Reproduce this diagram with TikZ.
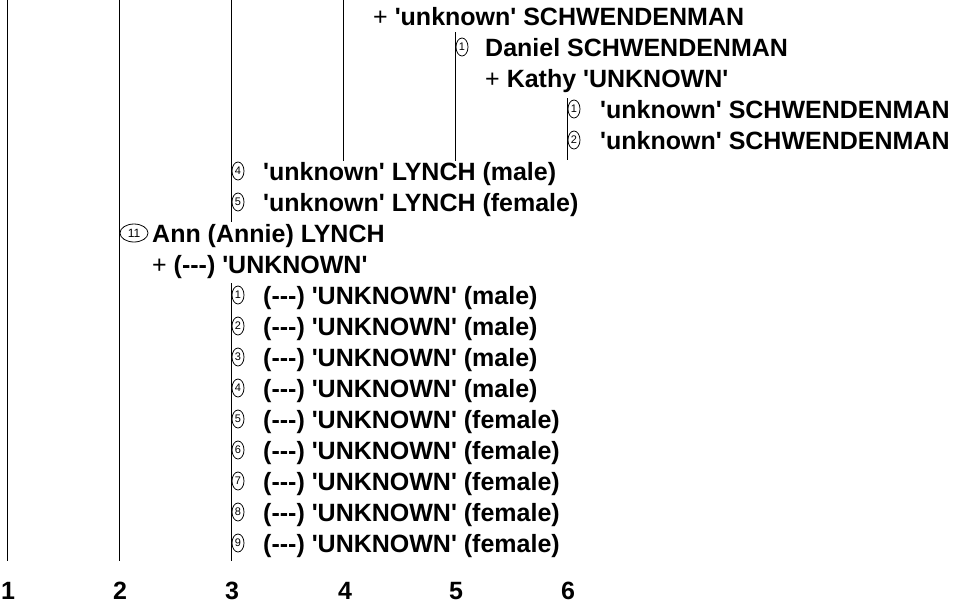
\documentclass[tikz,border=0pt]{standalone}
\usepackage{fontspec}
\newfontfamily\arialfont{Liberation Sans}
\usetikzlibrary{shapes.geometric}
\begin{document}
\begin{tikzpicture}[x=1pt,y=-1pt,
 person/.style={anchor=base west, inner sep=0pt, font=\arialfont\fontsize{25}{30}\selectfont\bfseries},
 badge/.style={draw, ellipse, line width=0.8pt, minimum width=12pt, minimum height=18pt, inner sep=0pt, font=\arialfont\fontsize{11}{11}\selectfont},
 widebadge/.style={badge, minimum width=28pt, minimum height=18pt, font=\arialfont\fontsize{12}{12}\selectfont},
 gen/.style={line width=0.9pt},
 genlabel/.style={anchor=base, inner sep=0pt, font=\arialfont\fontsize{25}{28}\selectfont\bfseries}]
\useasboundingbox (0,0) rectangle (955,606);
% generation lines
\coordinate (g1t) at (7,0);    \coordinate (g1b) at (7,561);
\coordinate (g2t) at (119,0);  \coordinate (g2b) at (119,561);
\coordinate (g3t) at (231,0);  \coordinate (g3b) at (231,222);
\coordinate (g3c) at (231,283);\coordinate (g3d) at (231,561);
\coordinate (g4t) at (343,0);  \coordinate (g4b) at (343,161);
\coordinate (g5t) at (455,32); \coordinate (g5b) at (455,161);
\coordinate (g6t) at (567,98); \coordinate (g6b) at (567,160);
\draw[gen] (g1t) -- (g1b);
\draw[gen] (g2t) -- (g2b);
\draw[gen] (g3t) -- (g3b);
\draw[gen] (g3c) -- (g3d);
\draw[gen] (g4t) -- (g4b);
\draw[gen] (g5t) -- (g5b);
\draw[gen] (g6t) -- (g6b);
% people
\node[person] (sp1) at (373,25) {{\mdseries+} 'unknown' SCHWENDENMAN};
\node[badge] (b2) at (462,47) {1};
\node[person] (p2) at (485,56) {Daniel SCHWENDENMAN};
\node[person] (sp3) at (485,87) {{\mdseries+} Kathy 'UNKNOWN'};
\node[badge] (b4) at (574,109) {1};
\node[person] (p4) at (600,118) {'unknown' SCHWENDENMAN};
\node[badge] (b5) at (574,140) {2};
\node[person] (p5) at (600,149) {'unknown' SCHWENDENMAN};
\node[badge] (b6) at (238,171) {4};
\node[person] (p6) at (263,180) {'unknown' LYNCH (male)};
\node[badge] (b7) at (238,202) {5};
\node[person] (p7) at (263,211) {'unknown' LYNCH (female)};
\node[widebadge] (b8) at (134,233) {11};
\node[person] (p8) at (152,242) {Ann (Annie) LYNCH};
\node[person] (sp9) at (152,273) {{\mdseries+} (---) 'UNKNOWN'};
\foreach \i/\s [count=\k from 0] in {1/male,2/male,3/male,4/male,5/female,6/female,7/female,8/female,9/female}{
  \node[badge] (c\i) at (238,295+31*\k) {\i};
  \node[person] (q\i) at (263,304+31*\k) {(---) 'UNKNOWN' (\s)};
}
% generation numbers
\node[genlabel] (n1) at (8,599) {1};
\node[genlabel] (n2) at (120,599) {2};
\node[genlabel] (n3) at (232,599) {3};
\node[genlabel] (n4) at (345,599) {4};
\node[genlabel] (n5) at (456,599) {5};
\node[genlabel] (n6) at (568,599) {6};
\end{tikzpicture}
\end{document}
